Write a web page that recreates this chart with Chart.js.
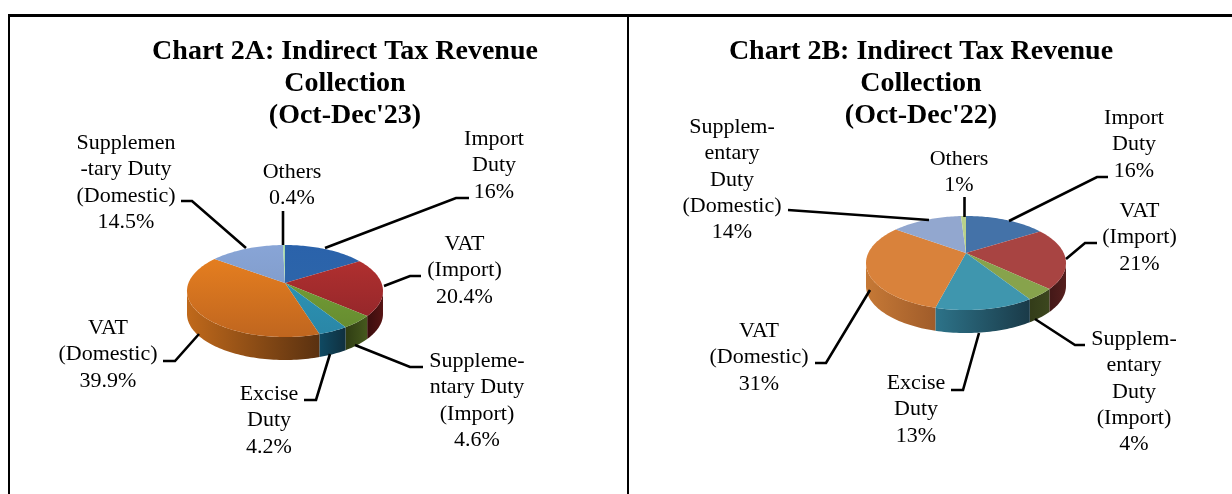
<!DOCTYPE html>
<html><head><meta charset="utf-8">
<style>
html,body{margin:0;padding:0;background:#fff;width:1232px;height:494px;overflow:hidden}
#a,#b{position:absolute;top:0}
#a{left:0}#b{left:628px}
.rule{position:absolute;background:#000}
</style></head><body>
<div class="rule" style="left:8px;top:14px;width:1224px;height:3px"></div>
<div class="rule" style="left:8px;top:14px;width:2px;height:480px"></div>
<div class="rule" style="left:627px;top:14px;width:2px;height:480px"></div>
<canvas id="a" width="627" height="494"></canvas>
<canvas id="b" width="604" height="494"></canvas>
<script src="https://cdn.jsdelivr.net/npm/chart.js@4/dist/chart.umd.min.js"></script>
<script>
const categories = ["Import Duty","VAT (Import)","Supplementary Duty (Import)","Excise Duty","VAT (Domestic)","Supplementary Duty (Domestic)","Others"];
const valuesA = [16,20.4,4.6,4.2,39.9,14.5,0.4];
const valuesB = [16,21,4,13,31,14,1];
const valueTextA = ["16%","20.4%","4.6%","4.2%","39.9%","14.5%","0.4%"];
const valueTextB = ["16%","21%","4%","13%","31%","14%","1%"];
const titleA = ["Chart 2A: Indirect Tax Revenue","Collection","(Oct-Dec'23)"];
const titleB = ["Chart 2B: Indirect Tax Revenue","Collection","(Oct-Dec'22)"];
const labelLinesA = [["Import","Duty"],["VAT","(Import)"],["Suppleme-","ntary Duty","(Import)"],["Excise","Duty"],["VAT","(Domestic)"],["Supplemen","-tary Duty","(Domestic)"],["Others"]];
const labelLinesB = [["Import","Duty"],["VAT","(Import)"],["Supplem-","entary","Duty","(Import)"],["Excise","Duty"],["VAT","(Domestic)"],["Supplem-","entary","Duty","(Domestic)"],["Others"]];

const faceA = [["#2a62ab","#2f68a8"],["#ba3331","#8d2429"],["#7da83a","#648a2f"],["#2c9cbf","#2a86a6"],["#ee8420","#c0661f"],["#89a6d8","#7a94c0"],["#a8d8a8","#a8d8a8"]];
const sideA = [["#1a3b66","#234f86"],["#3a0d0d","#571414"],["#2f3d13","#46591d"],["#0f4a63","#10303f"],["#c0691b","#5a3110"],["#4a6088","#5f7aa8"],["#6f9a6f","#6f9a6f"]];
const faceB = [["#4472a8","#4472a8"],["#a84442","#a84442"],["#87a34c","#87a34c"],["#3f96ae","#3f96ae"],["#d9823b","#d9823b"],["#92a7cf","#92a7cf"],["#b9d18a","#b9d18a"]];
const sideB = [["#2f5077","#2f5077"],["#431817","#561f1e"],["#333c19","#3c471e"],["#2d7389","#1a3a48"],["#c67936","#a05c2a"],["#66779a","#66779a"],["#828f60","#828f60"]];

const layoutA = {
  ox:0, cx:285, apexY:283, alpha:.174, b:44.6, A:96.5, depth:23,
  labelX:[494,464.5,477,269,108,126,292],
  labelY:[139,244,361,394,328,143,172],
  lineGap:26.5,
  leaders:[[[325,248],[456,198],[469,198]],[[384,286],[410,276],[421,276]],[[355,345],[410,367],[423,367]],[[330,354],[316,400],[304,400]],[[199,334],[175,361],[163,361]],[[246,248],[192,201],[181,201]],[[283,245],[283,211]]]
};
const layoutB = {
  ox:628, cx:966, apexY:253, alpha:.213, b:44.9, A:97.7, depth:23,
  labelX:[1134,1139.5,1134,916,759,732,959],
  labelY:[118,211,339,383,331,127,159],
  lineGap:26.4,
  leaders:[[[1009,221],[1097,177],[1108,177]],[[1066,259],[1085,243],[1097,243]],[[1035,319],[1075,345],[1085,345]],[[979,333],[963,390],[951,390]],[[870,290],[826,363],[815,363]],[[929,220],[788,210]],[[964.5,217],[964.5,197]]]
};

function project(g,phi){
  const u=Math.cos(phi), v=Math.sin(phi), w=1-g.alpha*v;
  return [g.cx+g.A*u/w, g.apexY+g.b*v/w];
}
const persp3d = {
  id:'persp3d',
  afterDatasetsUpdate(chart,args,o){
    const g=o.geom, face=o.face;
    chart.getDatasetMeta(0).data.forEach((el,i)=>{
      el.draw=function(ctx){
        const s=this.startAngle,e=this.endAngle,n=Math.max(2,Math.ceil((e-s)*40));
        ctx.save();ctx.translate(-g.ox,0);
        ctx.beginPath();ctx.moveTo(g.cx,g.apexY);
        for(let k=0;k<=n;k++){const p=project(g,s+(e-s)*k/n);ctx.lineTo(p[0],p[1]);}
        ctx.closePath();
        const gr=ctx.createLinearGradient(0,g.apexY-g.b,0,g.apexY+g.b*1.2);
        gr.addColorStop(0,face[i][0]);gr.addColorStop(1,face[i][1]);
        ctx.fillStyle=gr;ctx.fill();
        ctx.restore();
      };
    });
  },
  beforeDatasetsDraw(chart,args,o){
    const g=o.geom, ctx=chart.ctx, lim=Math.asin(g.alpha), tau=2*Math.PI;
    ctx.save();ctx.translate(-g.ox,0);
    chart.getDatasetMeta(0).data.forEach((el,i)=>{
      [-tau,0,tau].forEach(shift=>{
        const a=Math.max(el.startAngle+shift,lim),b=Math.min(el.endAngle+shift,Math.PI-lim);
        if(b<=a)return;
        const n=Math.max(2,Math.ceil((b-a)*40)),top=[];
        for(let k=0;k<=n;k++)top.push(project(g,a+(b-a)*k/n));
        ctx.beginPath();
        top.forEach((p,k)=>k?ctx.lineTo(p[0],p[1]):ctx.moveTo(p[0],p[1]));
        for(let k=n;k>=0;k--)ctx.lineTo(top[k][0],top[k][1]+g.depth);
        ctx.closePath();
        const xs=top.map(p=>p[0]),l=Math.min(...xs),r=Math.max(...xs);
        const gr=ctx.createLinearGradient(l,0,r,0);
        gr.addColorStop(0,o.side[i][0]);gr.addColorStop(1,o.side[i][1]);
        ctx.fillStyle=gr;ctx.fill();
      });
    });
    ctx.restore();
  },
  afterDraw(chart,args,o){
    const g=o.geom, ctx=chart.ctx;
    ctx.save();ctx.translate(-g.ox,0);
    ctx.strokeStyle='#000';ctx.lineWidth=2.6;ctx.lineJoin='miter';
    g.leaders.forEach(pts=>{
      ctx.beginPath();
      pts.forEach((p,k)=>k?ctx.lineTo(p[0],p[1]):ctx.moveTo(p[0],p[1]));
      ctx.stroke();
    });
    ctx.fillStyle='#000';ctx.font='22px "Liberation Serif"';ctx.textAlign='center';ctx.textBaseline='middle';
    o.lines.forEach((ls,i)=>{
      ls.concat([o.valueText[i]]).forEach((t,k)=>{
        ctx.fillText(t,g.labelX[i],g.labelY[i]+k*g.lineGap);
      });
    });
    ctx.restore();
  }
};
function make(id,values,title,lines,valueText,geom,face,side,padding,titleTop){
  return new Chart(document.getElementById(id),{
    type:'pie',
    data:{labels:categories,datasets:[{data:values,backgroundColor:face.map(c=>c[0]),borderWidth:0}]},
    options:{
      responsive:false,animation:false,
      layout:{padding},
      plugins:{
        legend:{display:false},tooltip:{enabled:false},
        title:{display:true,fullSize:false,text:title,color:'#000',
          font:{family:'"Liberation Serif"',size:28,weight:'bold',lineHeight:1.145},
          padding:{top:titleTop,bottom:0}},
        persp3d:{geom,face,side,lines,valueText}
      }
    },
    plugins:[persp3d]
  });
}
make('a',valuesA,titleA,labelLinesA,valueTextA,layoutA,faceA,sideA,{left:63,right:0,top:0,bottom:0},36);
make('b',valuesB,titleB,labelLinesB,valueTextB,layoutB,faceB,sideB,{left:0,right:18,top:0,bottom:0},36);
</script>
</body></html>
